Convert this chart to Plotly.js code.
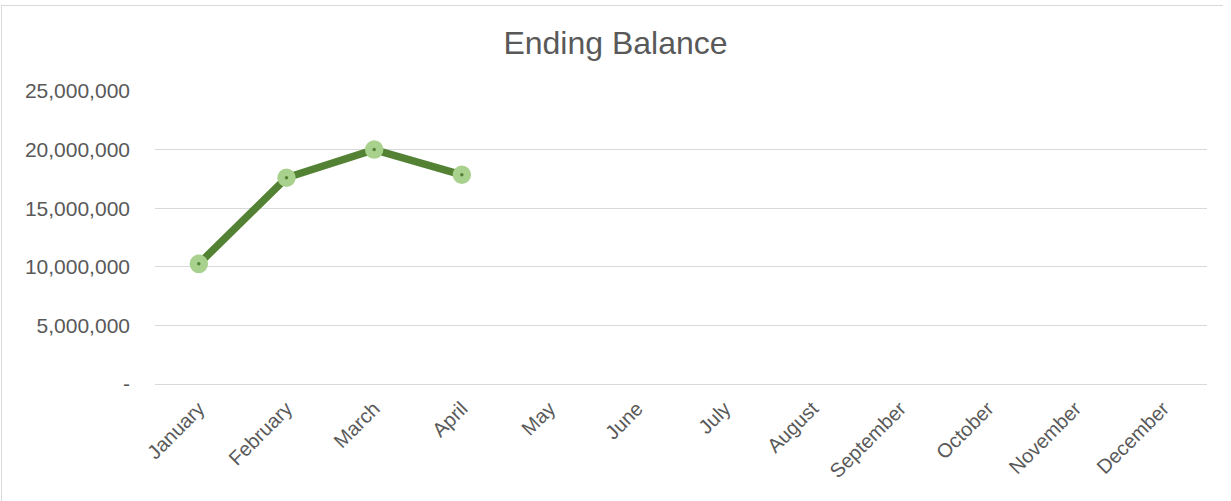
<!DOCTYPE html>
<html>
<head>
<meta charset="utf-8">
<script src="https://cdn.plot.ly/plotly-3.0.1.min.js"></script>
<style>
  html, body { margin: 0; padding: 0; background: #ffffff; }
  #wrap { position: relative; width: 1231px; height: 501px; overflow: hidden; }
  #frame { position: absolute; left: 1px; top: 5px; width: 1222px; height: 520px;
           border-top: 1px solid #d9d9d9; border-left: 1px solid #d9d9d9; box-sizing: border-box; }
  #chart { position: absolute; left: 0; top: 0; width: 1231px; height: 501px; }
</style>
</head>
<body>
<div id="wrap">
  <div id="frame"></div>
  <div id="chart"></div>
</div>
<script>
const months = ["January","February","March","April","May","June","July","August","September","October","November","December"];
const endingBalance = [10250000, 17600000, 20000000, 17850000, null, null, null, null, null, null, null, null];
const yTickVals = [0, 5000000, 10000000, 15000000, 20000000, 25000000];
const yTickText = ["-", "5,000,000", "10,000,000", "15,000,000", "20,000,000", "25,000,000"];

const font = "Liberation Sans, Arial, sans-serif";

const trace = {
  type: "scatter",
  mode: "lines+markers",
  x: months,
  y: endingBalance,
  connectgaps: false,
  line: { color: "#548235", width: 7.5 },
  marker: { color: "#548235", size: 11, line: { color: "#a9d18e", width: 7.5 } },
  hoverinfo: "x+y"
};

const layout = {
  width: 1231,
  height: 501,
  paper_bgcolor: "rgba(0,0,0,0)",
  plot_bgcolor: "rgba(0,0,0,0)",
  margin: { l: 155, r: 24, t: 91, b: 117 },
  showlegend: false,
  title: {
    text: "Ending Balance",
    font: { family: font, size: 32, color: "#595959" },
    x: 0.5, xanchor: "center",
    y: 1 - 43/501, yanchor: "middle", yref: "container"
  },
  xaxis: {
    type: "category",
    categoryarray: months,
    range: [-0.5, 11.5],
    showgrid: false,
    zeroline: false,
    showline: false,
    ticks: "",
    tickangle: -45,
    ticklabelstandoff: 8,
    tickfont: { family: font, size: 20, color: "#595959" },
    fixedrange: true
  },
  yaxis: {
    range: [0, 25000000],
    tickvals: yTickVals,
    ticktext: yTickText,
    showgrid: true,
    gridcolor: "#d9d9d9",
    gridwidth: 1,
    zeroline: true,
    zerolinecolor: "#d9d9d9",
    zerolinewidth: 1,
    showline: false,
    ticks: "",
    ticklabelstandoff: 24,
    tickfont: { family: font, size: 21, color: "#595959" },
    fixedrange: true
  }
};

Plotly.newPlot("chart", [trace], layout, { displayModeBar: false, staticPlot: true });
</script>
</body>
</html>
